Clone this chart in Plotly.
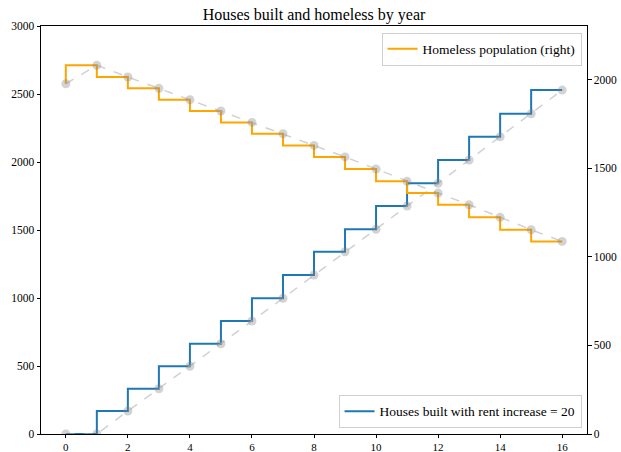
import plotly.graph_objects as go

years = list(range(17))
houses_built = [0, 0, 169, 333, 498, 664, 831, 998, 1169, 1340, 1505, 1676, 1843, 2015, 2186, 2355, 2529]
homeless = [1977, 2081, 2015, 1951, 1887, 1823, 1759, 1695, 1629, 1564, 1496, 1426, 1360, 1294, 1223, 1153, 1087]

title = "Houses built and homeless by year"
houses_name = "Houses built with rent increase = 20"
homeless_name = "Homeless population (right)"

FONT = "Liberation Serif"
fig = go.Figure()

# homeless (right axis)
fig.add_trace(go.Scatter(x=years, y=homeless, mode="lines", line=dict(color="#FFA500", width=2, shape="vh"),
                         name=homeless_name, yaxis="y2", legend="legend"))
fig.add_trace(go.Scatter(x=years, y=homeless, mode="lines+markers",
                         line=dict(color="rgba(190,190,190,0.7)", width=1.5, dash="dash"),
                         marker=dict(color="rgba(128,128,128,0.35)", size=9),
                         yaxis="y2", showlegend=False, hoverinfo="skip"))
# houses built (left axis)
fig.add_trace(go.Scatter(x=years, y=houses_built, mode="lines", line=dict(color="#1f77b4", width=2, shape="vh"),
                         name=houses_name, yaxis="y", legend="legend2"))
fig.add_trace(go.Scatter(x=years, y=houses_built, mode="lines+markers",
                         line=dict(color="rgba(190,190,190,0.7)", width=1.5, dash="dash"),
                         marker=dict(color="rgba(128,128,128,0.35)", size=9),
                         yaxis="y", showlegend=False, hoverinfo="skip"))

axis_common = dict(showgrid=False, zeroline=False, showline=True, linecolor="black", linewidth=1,
                   automargin=False, ticks="outside", tickcolor="black")
yfont = dict(family=FONT, size=11.5, color="black")
xfont = dict(family=FONT, size=11, color="black")

fig.update_layout(
    width=621, height=452,
    margin=dict(l=41, r=34, t=26, b=18, autoexpand=False),
    plot_bgcolor="white", paper_bgcolor="white",
    font=dict(family=FONT, size=12, color="black"),
    title=dict(text=title, x=0.5, xref="paper", y=0.968, yanchor="middle", automargin=False,
               font=dict(family=FONT, size=16, color="black")),
    xaxis=dict(range=[-0.8, 16.8], tickvals=[0, 2, 4, 6, 8, 10, 12, 14, 16], mirror=True,
               ticklen=3, tickfont=xfont, **axis_common),
    yaxis=dict(range=[0, 3000], tickvals=[0, 500, 1000, 1500, 2000, 2500, 3000],
               ticklen=3.5, tickfont=yfont, **axis_common),
    yaxis2=dict(range=[0, 2303], tickvals=[0, 500, 1000, 1500, 2000], overlaying="y", side="right",
                ticklen=3.5, tickfont=yfont, **axis_common),
    legend=dict(x=0.99, y=0.984, xanchor="right", yanchor="top", bgcolor="rgba(255,255,255,0.8)",
                bordercolor="#d0d0d0", borderwidth=1, itemwidth=30, font=dict(family=FONT, size=13.5)),
    legend2=dict(x=0.99, y=0.015, xanchor="right", yanchor="bottom", bgcolor="rgba(255,255,255,0.8)",
                 bordercolor="#d0d0d0", borderwidth=1, itemwidth=30, font=dict(family=FONT, size=13.5)),
)

# remove the page's default body margin so the figure sits at the window's top-left corner
fig.write_html("out.html", config={"displayModeBar": False},
               post_script="document.body.style.margin='0';document.body.style.overflow='hidden';")
